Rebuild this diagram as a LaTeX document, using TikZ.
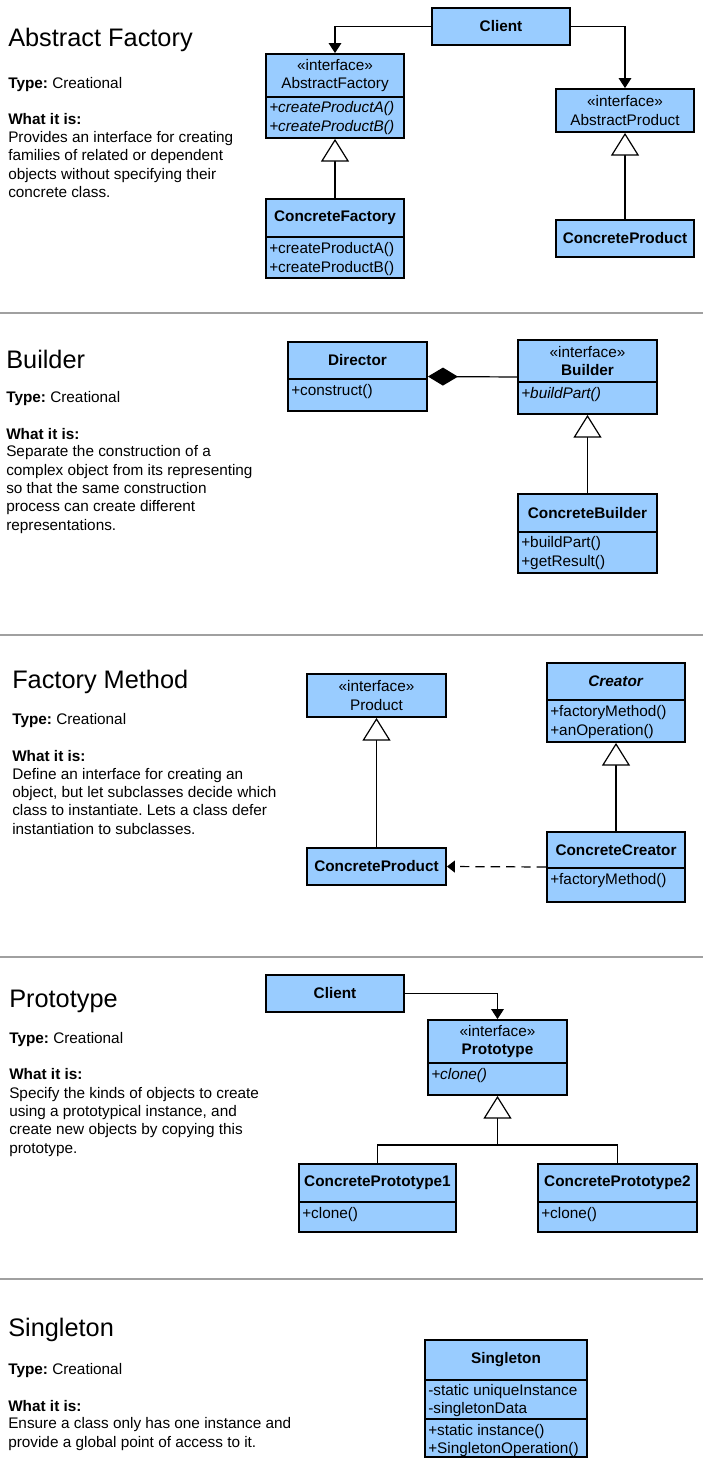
\documentclass[tikz,border=0pt]{standalone}
\usepackage{fontspec}
\setmainfont{Liberation Sans}
\usetikzlibrary{arrows.meta,fit}
\definecolor{clsblue}{RGB}{153,204,255}
\definecolor{rulegray}{RGB}{160,160,160}
\frenchspacing
\tikzset{
  cls/.style={draw, line width=1.4pt, fill=clsblue, inner sep=0pt, rectangle},
  sepl/.style={line width=1.4pt},
  hdr/.style={align=center, font=\fontsize{11.5}{14}\selectfont, inner sep=0pt},
  mth/.style={align=left, anchor=base west, font=\fontsize{11.5}{14.25}\selectfont, inner sep=0pt},
  ttl/.style={anchor=base west, font=\fontsize{19}{23}\selectfont, inner sep=0pt},
  body/.style={anchor=base west, align=left, font=\fontsize{11.5}{13.7}\selectfont, inner sep=0pt},
  rulel/.style={draw=rulegray, line width=1.5pt},
  conn/.style={draw, line width=0.9pt},
  nav/.style={conn, -{Triangle[length=7.5pt,width=9.5pt]}},
  gen/.style={conn, -{Triangle[open, length=17pt, width=21pt, fill=white]}},
  comp/.style={conn, -{Diamond[length=22.5pt, width=13.5pt]}},
  dep/.style={conn, dash pattern=on 7pt off 4.5pt, -{Triangle[length=6pt,width=9pt]}}
}
\begin{document}
\frenchspacing
\begin{tikzpicture}[x=0.75pt,y=-0.75pt]
\useasboundingbox (0,0) rectangle (703,1470);
% (anchor base of a multi-line node = baseline of its last line)

% ---------------- Abstract Factory ----------------
\node[ttl] (t1) at (8,47) {Abstract Factory};
\node[body] (ty1) at (8,89) {\textbf{Type:} Creational};
\node[body] (w1) at (8,124) {\textbf{What it is:}};
\node[body] (d1) at (8,197.5) {Provides an interface for creating\\families of related or dependent\\objects without specifying their\\concrete class.};

\node[cls, fit={(432,8) (570,45)}] (cl1) {};
\node[hdr] (cl1t) at (cl1.center) {\textbf{Client}};

\node[cls, fit={(266,54) (404,138)}] (af) {};
\draw[sepl] (266,97) -- (404,97);
\node[hdr] (aft) at (335,75.5) {«interface»\\AbstractFactory};
\node[mth] (afm) at (269,132) {\textit{+createProductA()}\\\textit{+createProductB()}};

\node[cls, fit={(556,89) (694,132)}] (ap) {};
\node[hdr] (apt) at (ap.center) {«interface»\\AbstractProduct};

\node[cls, fit={(266,199) (404,278)}] (cf) {};
\draw[sepl] (266,237) -- (404,237);
\node[hdr] (cft) at (335,218) {\textbf{ConcreteFactory}};
\node[mth] (cfm) at (269,272) {+createProductA()\\+createProductB()};

\node[cls, fit={(556,220) (694,257)}] (cpa) {};
\node[hdr] (cpat) at (cpa.center) {\textbf{ConcreteProduct}};

\draw[nav] (cl1.west) -| (af.north);
\draw[nav] (cl1.east) -| (ap.north);
\draw[gen] (cf.north) -- (af.south);
\draw[gen] (cpa.north) -- (ap.south);

% ---------------- Builder ----------------
\draw[rulel] (0,313) -- (703,313);
\node[ttl] (t2) at (6,368) {Builder};
\node[body] (ty2) at (6,402) {\textbf{Type:} Creational};
\node[body] (w2) at (6,439) {\textbf{What it is:}};
\node[body] (d2) at (6,530) {Separate the construction of a\\complex object from its representing\\so that the same construction\\process can create different\\representations.};

\node[cls, fit={(288,342) (427,411)}] (dir) {};
\draw[sepl] (288,379) -- (427,379);
\node[hdr] (dirt) at (357.5,360.5) {\textbf{Director}};
\node[mth] (dirm) at (291,395) {+construct()};

\node[cls, fit={(518,340) (657,414)}] (bld) {};
\draw[sepl] (518,382) -- (657,382);
\node[hdr] (bldt) at (587.5,361) {«interface»\\\textbf{Builder}};
\node[mth] (bldm) at (521,398) {\textit{+buildPart()}};

\node[cls, fit={(518,494) (657,573)}] (cb) {};
\draw[sepl] (518,532) -- (657,532);
\node[hdr] (cbt) at (587.5,513) {\textbf{ConcreteBuilder}};
\node[mth] (cbm) at (521,566) {+buildPart()\\+getResult()};

\draw[comp] (bld.west) -- (dir.east);
\draw[gen] (cb.north) -- (bld.south);

% ---------------- Factory Method ----------------
\draw[rulel] (0,635) -- (703,635);
\node[ttl] (t3) at (12,688) {Factory Method};
\node[body] (ty3) at (12,724) {\textbf{Type:} Creational};
\node[body] (w3) at (12,761) {\textbf{What it is:}};
\node[body] (d3) at (12,834) {Define an interface for creating an\\object, but let subclasses decide which\\class to instantiate. Lets a class defer\\instantiation to subclasses.};

\node[cls, fit={(307,674) (446,717)}] (prod) {};
\node[hdr] (prodt) at (prod.center) {«interface»\\Product};

\node[cls, fit={(307,848) (446,885)}] (cprod) {};
\node[hdr] (cprodt) at (cprod.center) {\textbf{ConcreteProduct}};

\node[cls, fit={(547,663) (685,742)}] (crt) {};
\draw[sepl] (547,700) -- (685,700);
\node[hdr] (crtt) at (616,681.5) {\textbf{\textit{Creator}}};
\node[mth] (crtm) at (550,735) {+factoryMethod()\\+anOperation()};

\node[cls, fit={(547,832) (685,902)}] (ccr) {};
\draw[sepl] (547,868) -- (685,868);
\node[hdr] (ccrt) at (616,850) {\textbf{ConcreteCreator}};
\node[mth] (ccrm) at (550,884) {+factoryMethod()};

\draw[gen] (cprod.north) -- (prod.south);
\draw[gen] (ccr.north) -- (crt.south);
\draw[dep] (ccr.west) -- (cprod.east);

% ---------------- Prototype ----------------
\draw[rulel] (0,957) -- (703,957);
\node[ttl] (t4) at (9,1007) {Prototype};
\node[body] (ty4) at (9,1043) {\textbf{Type:} Creational};
\node[body] (w4) at (9,1079) {\textbf{What it is:}};
\node[body] (d4) at (9,1153) {Specify the kinds of objects to create\\using a prototypical instance, and\\create new objects by copying this\\prototype.};

\node[cls, fit={(266,975) (404,1012)}] (pcl) {};
\node[hdr] (pclt) at (pcl.center) {\textbf{Client}};

\node[cls, fit={(428,1020) (567,1095)}] (proto) {};
\draw[sepl] (428,1063) -- (567,1063);
\node[hdr] (protot) at (497.5,1041.5) {«interface»\\\textbf{Prototype}};
\node[mth] (protom) at (431,1079) {\textit{+clone()}};

\node[cls, fit={(299,1164) (456,1232)}] (cp1) {};
\draw[sepl] (299,1202) -- (456,1202);
\node[hdr] (cp1t) at (377.5,1183) {\textbf{ConcretePrototype1}};
\node[mth] (cp1m) at (302,1218) {+clone()};

\node[cls, fit={(538,1164) (697,1232)}] (cp2) {};
\draw[sepl] (538,1202) -- (697,1202);
\node[hdr] (cp2t) at (617.5,1183) {\textbf{ConcretePrototype2}};
\node[mth] (cp2m) at (541,1218) {+clone()};

\draw[nav] (pcl.east) -| (proto.north);
\coordinate (pj) at (497.5,1145);
\draw[conn] (cp1.north) |- (pj) -| (cp2.north);
\draw[gen] (pj) -- (proto.south);

% ---------------- Singleton ----------------
\draw[rulel] (0,1279) -- (703,1279);
\node[ttl] (t5) at (8,1336) {Singleton};
\node[body] (ty5) at (8,1374) {\textbf{Type:} Creational};
\node[body] (w5) at (8,1411) {\textbf{What it is:}};
\node[body] (d5) at (8,1447) {Ensure a class only has one instance and\\provide a global point of access to it.};

\node[cls, fit={(425,1340) (587,1457)}] (sgl) {};
\draw[sepl] (425,1380) -- (587,1380);
\draw[sepl] (425,1419) -- (587,1419);
\node[hdr] (sglt) at (506,1360) {\textbf{Singleton}};
\node[mth, font=\fontsize{11.5}{13.5}\selectfont] (sgla) at (428,1413) {-static uniqueInstance\\-singletonData};
\node[mth, font=\fontsize{11.5}{13.5}\selectfont] (sglm) at (428,1453) {+static instance()\\+SingletonOperation()};

\end{tikzpicture}
\end{document}
